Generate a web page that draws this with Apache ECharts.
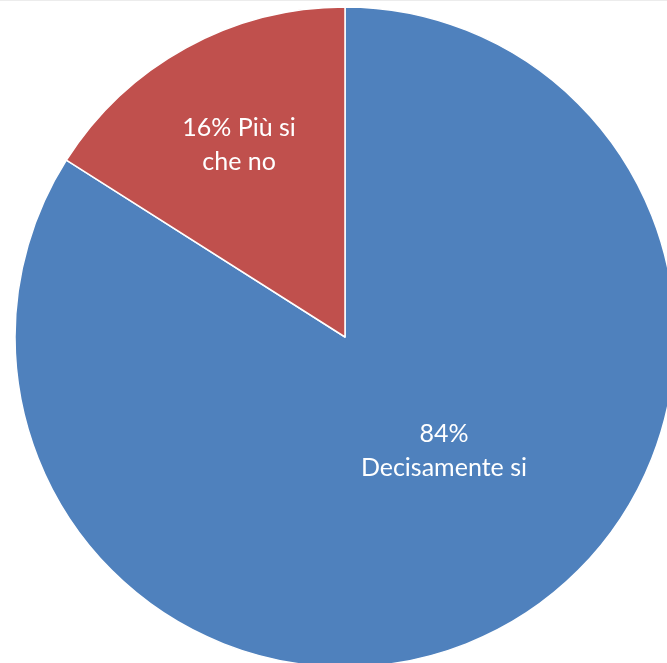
<!DOCTYPE html>
<html>
<head>
<meta charset="utf-8">
<script src="https://cdn.jsdelivr.net/npm/echarts@6/dist/echarts.min.js"></script>
<style>
html,body{margin:0;padding:0;background:#fff;}
#chart{width:667px;height:663px;border-top:1px solid #ececec;box-sizing:border-box;}
</style>
</head>
<body>
<div id="chart"></div>
<script>
var categories = ['Decisamente si', 'Più si che no'];
var values = [84, 16];
var labelTexts = ['{d}%\nDecisamente si', '{d}% Più si\nche no'];
var colors = ['#4F81BD', '#C0504D'];
var labelShift = [[18, -33], [-25, -45]];

var chart = echarts.init(document.getElementById('chart'));
chart.setOption({
  animation: false,
  series: [{
    type: 'pie',
    center: [345, 336],
    radius: 330,
    startAngle: 90,
    clockwise: true,
    data: categories.map(function (c, i) {
      return {
        name: c,
        value: values[i],
        itemStyle: { color: colors[i] },
        label: { formatter: labelTexts[i] }
      };
    }),
    itemStyle: { borderColor: '#ffffff', borderWidth: 1.5 },
    label: {
      show: true,
      position: 'inside',
      color: '#ffffff',
      fontFamily: 'Lato, "Open Sans", sans-serif',
      fontSize: 25,
      lineHeight: 34,
      align: 'center'
    },
    labelLine: { show: false },
    labelLayout: function (p) {
      var s = labelShift[p.dataIndex];
      return { dx: s[0], dy: s[1] };
    }
  }]
});
</script>
</body>
</html>
